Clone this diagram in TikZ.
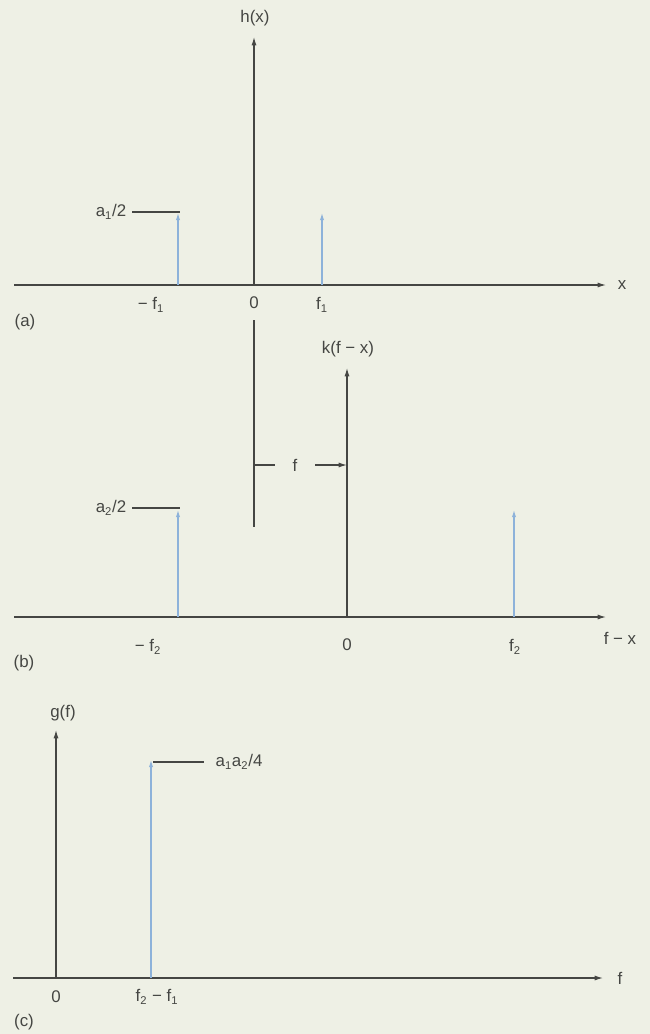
\documentclass[tikz,border=0pt]{standalone}
\usepackage{fontspec}
\setmainfont{Liberation Sans}
\usetikzlibrary{arrows.meta}

\definecolor{paper}{HTML}{EEF0E5}
\definecolor{ink}{HTML}{454643}
\definecolor{spikeblue}{HTML}{8DB2DA}

\begin{document}
\begin{tikzpicture}[
	x=0.025cm, y=-0.025cm,
	font=\fontsize{12}{14}\selectfont,
	axis/.style={-{Latex[length=6pt, width=3.6pt]}, line width=0.8pt, ink},
	spike/.style={-{Latex[length=5pt, width=3pt]}, line width=0.8pt, spikeblue},
	guide/.style={line width=0.8pt, ink},
	lbl/.style={text=ink, inner sep=1pt}
]

% Paper
\fill[paper] (0,0) rectangle (650,1034);
\useasboundingbox (0,0) rectangle (650,1034);

% (a) h(x)
\coordinate (a-left)  at (14,285);
\coordinate (a-right) at (606,285);
\coordinate (a-orig)  at (254,285);
\coordinate (a-top)   at (254,37);
\coordinate (a-m)     at (178,285);
\coordinate (a-mtop)  at (178,213);
\coordinate (a-p)     at (322,285);
\coordinate (a-ptop)  at (322,213);
\coordinate (a-lvl)   at (180,212);

\node[lbl] (hx)   at (255,18)  {h(x)};
\node[lbl] (xlab) at (622,285) {x};
\node[lbl] (amf)  at (151,305) {− f\textsubscript{1}};
\node[lbl] (azero) at (254,303) {0};
\node[lbl] (apf)  at (322,305) {f\textsubscript{1}};
\node[lbl] (acap) at (25,322)  {(a)};
\node[lbl, inner sep=4pt] (ahalf) at (111,212) {a\textsubscript{1}/2};

\draw[axis] (a-left) -- (a-right);
\draw[axis] (a-orig) -- (a-top);
\draw[spike] (a-m) -- (a-mtop);
\draw[spike] (a-p) -- (a-ptop);
\draw[guide] (ahalf.east) -- (ahalf.east -| a-lvl);

% (b) k(f-x)
\coordinate (b-left)  at (14,617);
\coordinate (b-right) at (606,617);
\coordinate (b-orig)  at (347,617);
\coordinate (b-top)   at (347,368);
\coordinate (b-mark)  at (254,320);
\coordinate (b-markb) at (254,527);
\coordinate (b-markm) at (254,465);
\coordinate (b-axm)   at (347,465);
\coordinate (b-m)     at (178,617);
\coordinate (b-mtop)  at (178,510);
\coordinate (b-p)     at (514,617);
\coordinate (b-ptop)  at (514,510);
\coordinate (b-lvl)   at (180,508);

\node[lbl] (kfx)  at (348,349) {k(f − x)};
\node[lbl] (fxlab) at (620,638) {f − x};
\node[lbl] (bmf)  at (148,647) {− f\textsubscript{2}};
\node[lbl] (bzero) at (347,645) {0};
\node[lbl] (bpf)  at (515,647) {f\textsubscript{2}};
\node[lbl] (bcap) at (24,663)  {(b)};
\node[lbl, inner sep=4pt] (bhalf) at (111,508) {a\textsubscript{2}/2};
\node[lbl, minimum width=1cm, inner sep=0pt] (fdim) at (295,465) {f};

\draw[axis] (b-left) -- (b-right);
\draw[axis] (b-orig) -- (b-top);
\draw[guide] (b-mark) -- (b-markb);
\draw[guide] (b-markm) -- (fdim.west);
\draw[axis] (fdim.east) -- (b-axm);
\draw[spike] (b-m) -- (b-mtop);
\draw[spike] (b-p) -- (b-ptop);
\draw[guide] (bhalf.east) -- (bhalf.east -| b-lvl);

% (c) g(f)
\coordinate (c-left)  at (13,978);
\coordinate (c-right) at (603,978);
\coordinate (c-orig)  at (56,978);
\coordinate (c-top)   at (56,730);
\coordinate (c-s)     at (151,978);
\coordinate (c-stop)  at (151,760);
\coordinate (c-lvl)   at (153,762);

\node[lbl] (gf)   at (63,713)  {g(f)};
\node[lbl] (flab) at (620,978) {f};
\node[lbl] (czero) at (56,997) {0};
\node[lbl] (cdiff) at (157,997) {f\textsubscript{2} − f\textsubscript{1}};
\node[lbl] (ccap) at (24,1022) {(c)};
\node[lbl, inner sep=8pt] (cprod) at (239,762) {a\textsubscript{1}a\textsubscript{2}/4};

\draw[axis] (c-left) -- (c-right);
\draw[axis] (c-orig) -- (c-top);
\draw[spike] (c-s) -- (c-stop);
\draw[guide] (c-lvl) -- (cprod.west);

\end{tikzpicture}
\end{document}
